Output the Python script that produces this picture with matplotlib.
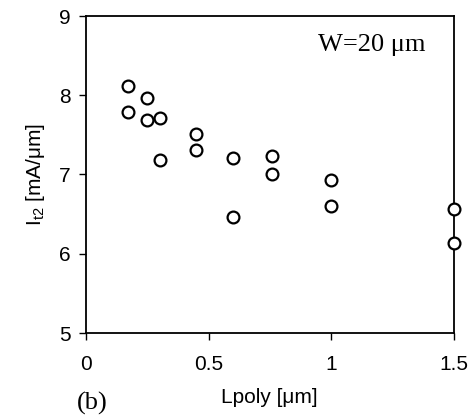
import matplotlib
matplotlib.use("Agg")
import matplotlib.pyplot as plt

# data
lpoly = [0.17, 0.17, 0.25, 0.25, 0.30, 0.30, 0.45, 0.45,
         0.60, 0.60, 0.76, 0.76, 1.0, 1.0, 1.5, 1.5]
it2 = [8.12, 7.79, 7.97, 7.69, 7.71, 7.18, 7.51, 7.31,
       7.21, 6.47, 7.23, 7.01, 6.93, 6.60, 6.57, 6.14]
xticks = [0, 0.5, 1, 1.5]
xticklabels = ["0", "0.5", "1", "1.5"]
yticks = [5, 6, 7, 8, 9]

plt.rcParams["font.family"] = ["Liberation Sans", "DejaVu Sans"]
serif = ["Liberation Serif", "DejaVu Serif"]

fig = plt.figure(figsize=(4.76, 4.15), dpi=100)
ax = fig.add_axes([86 / 476, 1 - 333 / 415, 367.5 / 476, 317 / 415])

ax.plot(lpoly, it2, "o", mfc="white", mec="black", mew=1.6, ms=8.5,
        clip_on=False, zorder=5)

ax.set_xlim(0, 1.5)
ax.set_ylim(5, 9)
ax.set_xticks(xticks)
ax.set_xticklabels(xticklabels)
ax.set_yticks(yticks)
ax.tick_params(direction="out", length=5, width=1, labelsize=15)
ax.tick_params(axis="x", pad=11)
ax.tick_params(axis="y", pad=6)
for s in ax.spines.values():
    s.set_linewidth(1.3)

ax.set_xlabel("Lpoly [\u03bcm]", fontsize=15, labelpad=10)
ax.set_ylabel("I$_{\\mathregular{t2}}$ [mA/\u03bcm]", fontsize=15, labelpad=9)

ax.text(0.925, 0.908, "W=20 \u03bcm", transform=ax.transAxes, ha="right", va="center",
        fontsize=19, family=serif)
fig.text(77 / 476, 1 - 403 / 415, "(b)", ha="left", va="center",
         fontsize=19, family=serif)

fig.savefig("out.png", dpi=100)
